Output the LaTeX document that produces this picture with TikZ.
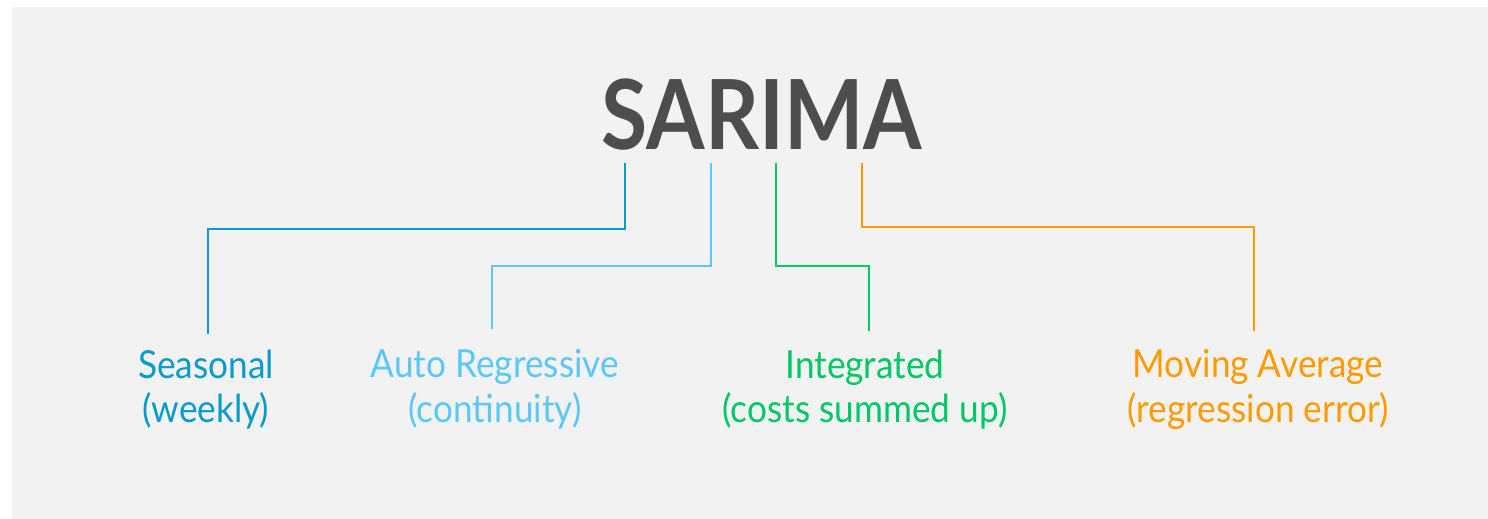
\documentclass[tikz,border=0pt]{standalone}
\usepackage{fontspec}
\setmainfont[FakeStretch=0.91]{Lato}
\newfontfamily\titlefont[FakeStretch=0.87]{Lato}
\usepackage{xcolor}
\usetikzlibrary{positioning}

\definecolor{panelgray}{HTML}{F2F2F2}
\definecolor{titlegray}{HTML}{4D4D4D}
\definecolor{seasblue}{HTML}{0A9BCD}
\definecolor{arblue}{HTML}{5AC8FA}
\definecolor{intgreen}{HTML}{00C864}
\definecolor{magold}{HTML}{FF9A00}

\begin{document}
\begin{tikzpicture}[x=0.01cm, y=-0.01cm,
  term/.style={anchor=north, inner sep=0pt, align=center,
    font=\fontsize{11}{12.6}\selectfont},
  link/.style={line width=0.6pt}]
  \useasboundingbox (0,0) rectangle (1488,519);
  \fill[panelgray] (12,7) rectangle (1488,519);

  \node[anchor=base, inner sep=0pt, text=titlegray,
    font=\titlefont\bfseries\fontsize{27.5}{30}\selectfont] (sarima) at (762,150) {SARIMA};

  \node[term, text=seasblue] (seas)  at (206,349)  {Seasonal\\(weekly)};
  \node[term, text=arblue]   (ar)    at (495,349)  {Auto Regressive\\(continuity)};
  \node[term, text=intgreen] (integ) at (865,349)  {Integrated\\(costs summed up)};
  \node[term, text=magold]   (ma)    at (1258,349) {Moving Average\\(regression error)};

  % drop lines under the title
  \coordinate (sTop)   at (625,163);
  \coordinate (arTop)  at (711,163);
  \coordinate (intTop) at (776,163);
  \coordinate (maTop)  at (862,163);

  \draw[link, seasblue] (sTop)   -- ++(0,66)  -| ([xshift=0.55pt, yshift=4.2pt]seas.north);
  \draw[link, arblue]   (arTop)  -- ++(0,103) -| ([xshift=-0.85pt, yshift=5.6pt]ar.north);
  \draw[link, intgreen] (intTop) -- ++(0,103) -| ([xshift=1.1pt, yshift=5pt]integ.north);
  \draw[link, magold]   (maTop)  -- ++(0,64)  -| ([xshift=-1.1pt, yshift=5pt]ma.north);
\end{tikzpicture}
\end{document}
